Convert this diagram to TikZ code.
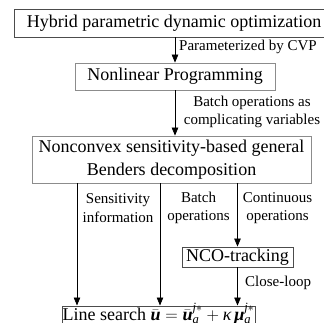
\documentclass[tikz,border=0pt]{standalone}
\usepackage{amsmath}
\usepackage{fontspec}
\setmainfont{Liberation Serif}
\usetikzlibrary{positioning,arrows.meta}

\begin{document}
\begin{tikzpicture}[x=1pt,y=-1pt,
	box/.style={draw=black!70,line width=0.8pt,inner sep=0pt,align=center,font=\fontsize{18}{22.5}\selectfont},
	lbl/.style={inner sep=0pt,align=center,font=\fontsize{15}{18.5}\selectfont},
	arr/.style={-{Triangle[length=8pt,width=6.5pt]},line width=0.7pt}]
		\useasboundingbox (0,0) rectangle (324,323);

		\node[box,minimum width=320pt,minimum height=27.5pt]						(hpdo)	at (174,23.3)	{Hybrid parametric dynamic optimization};
		\node[box,draw=black!45,minimum width=200pt,minimum height=27pt]			(nlp)	at (175,76.5)	{Nonlinear Programming};
		\node[box,draw=black!45,minimum width=279pt,minimum height=47pt]			(nsgbd)	at (171.5,159.5)	{Nonconvex sensitivity-based general\\Benders decomposition};
		\node[box,minimum width=111pt,minimum height=20pt]							(nco)	at (237.5,257)	{NCO-tracking};
		\node[box,minimum width=193pt,text height=12.5pt,text depth=7pt,inner ysep=2pt,anchor=north]	(ls)	at (158.5,305.5)
			{Line search $\bar{\text{\bfseries\itshape u}} = \bar{\text{\bfseries\itshape u}}_{\textit{a}}^{\textit{j}*} + \text{\itshape κ}\,\text{\bfseries\itshape μ}_{\textit{a}}^{\textit{j}*}$};

		\node[lbl,anchor=west]	(cvp)	at (179,47)		{Parameterized by CVP};
		\node[lbl]				(cplx)	at (252,112)	{Batch operations as\\complicating variables};
		\node[lbl]				(sens)	at (118,208)	{Sensitivity\\information};
		\node[lbl]				(bops)	at (198.5,208)	{Batch\\operations};
		\node[lbl]				(cops)	at (277.5,208)	{Continuous\\operations};
		\node[lbl,anchor=west]	(cl)	at (245,283)	{Close-loop};

		\coordinate (c1) at (77,0);
		\coordinate (c2) at (160,0);

		\draw[arr] (hpdo.south -| nlp) -- (nlp);
		\draw[arr] (nlp) -- (nlp |- nsgbd.north);
		\draw[arr] (c1 |- nsgbd.south) -- (c1 |- ls.north);
		\draw[arr] (c2 |- nsgbd.south) -- (c2 |- ls.north);
		\draw[arr] (nsgbd.south -| nco) -- (nco);
		\draw[arr] (nco) -- (nco |- ls.north);
	\end{tikzpicture}
\end{document}
